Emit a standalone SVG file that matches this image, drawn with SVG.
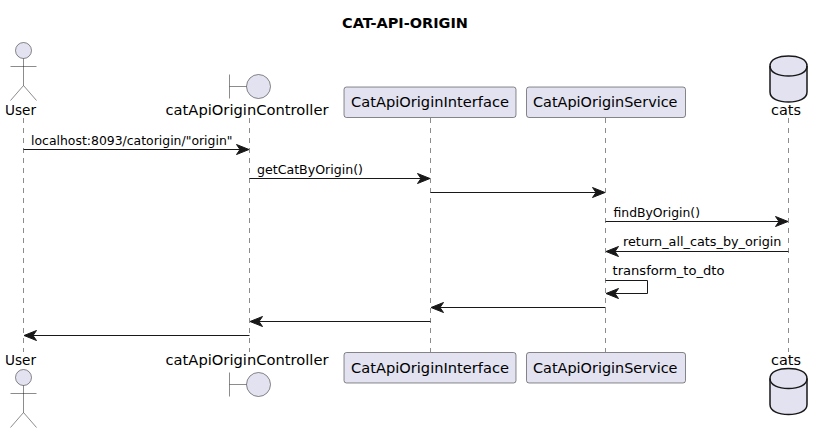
<svg xmlns="http://www.w3.org/2000/svg" width="822" height="433" viewBox="0 0 822 433">
<style>
text{font-family:"DejaVu Sans",sans-serif;fill:#000}
.t{font-size:14.500px;font-weight:700}
.p{font-size:14.500px}
.m{font-size:12.500px}
.life{stroke:#181818;stroke-width:.5;stroke-dasharray:5,5;fill:none}
.shape{fill:#E2E2F0;stroke:#181818;stroke-width:.5}
.stick{fill:none;stroke:#181818;stroke-width:.5}
.db{fill:#E2E2F0;stroke:#181818;stroke-width:1.5}
.dbl{fill:none;stroke:#181818;stroke-width:1.5}
.msg{fill:none;stroke:#181818;stroke-width:1}
.head{fill:#181818;stroke:#181818;stroke-width:1}
</style>
<defs>
<path id="ar" class="head" d="M0,0 L-12.500,-5 L-9,0 L-12.500,5 Z"/>
<path id="al" class="head" d="M0,0 L12.500,-5 L9,0 L12.500,5 Z"/>
<g id="actor"><circle class="shape" cx="0" cy="0" r="8"/><path class="stick" d="M0,8V35M-13,16H13M0,35L-13,50M0,35L13,50"/></g>
<g id="boundary"><circle class="shape" cx="9" cy="0" r="12"/><path class="stick" d="M-20,-12V12M-20,0H-3"/></g>
<g id="dbshape"><path class="db" d="M770,66 C770,59 779,56 788.500,56 C798,56 807,59 807,66 V92 C807,99 798,102 788.500,102 C779,102 770,99 770,92 Z"/><path class="dbl" d="M770,66 C770,73 779,76 788.500,76 C798,76 807,73 807,66"/></g>
</defs>
<text class="t" x="342" y="28" textLength="126" lengthAdjust="spacingAndGlyphs">CAT-API-ORIGIN</text>
<g id="lifelines">
<path class="life" d="M23.500,118V352"/>
<path class="life" d="M249.500,118V352"/>
<path class="life" d="M430.500,118V352"/>
<path class="life" d="M605.500,118V352"/>
<path class="life" d="M788.500,118V352"/>
</g>
<g id="user-top"><use href="#actor" x="23.500" y="50.500"/><text class="p" x="5" y="115" textLength="31" lengthAdjust="spacingAndGlyphs">User</text></g>
<g id="controller-top"><use href="#boundary" x="249.500" y="86.500"/><text class="p" x="165.500" y="115" textLength="163" lengthAdjust="spacingAndGlyphs">catApiOriginController</text></g>
<g id="interface-top"><rect class="shape" x="344" y="87" width="172" height="30.500" rx="2.500"/><text class="p" x="351" y="107" textLength="158" lengthAdjust="spacingAndGlyphs">CatApiOriginInterface</text></g>
<g id="service-top"><rect class="shape" x="526.500" y="87" width="159" height="30.500" rx="2.500"/><text class="p" x="533" y="107" textLength="144.500" lengthAdjust="spacingAndGlyphs">CatApiOriginService</text></g>
<g id="cats-top"><use href="#dbshape"/><text class="p" x="771" y="115" textLength="30" lengthAdjust="spacingAndGlyphs">cats</text></g>
<g id="user-bottom"><use href="#actor" x="23.500" y="377.500"/><text class="p" x="5" y="365" textLength="31" lengthAdjust="spacingAndGlyphs">User</text></g>
<g id="controller-bottom"><use href="#boundary" x="249.500" y="384.500"/><text class="p" x="165.500" y="365" textLength="163" lengthAdjust="spacingAndGlyphs">catApiOriginController</text></g>
<g id="interface-bottom"><rect class="shape" x="344" y="352.500" width="172" height="30.500" rx="2.500"/><text class="p" x="351" y="372.500" textLength="158" lengthAdjust="spacingAndGlyphs">CatApiOriginInterface</text></g>
<g id="service-bottom"><rect class="shape" x="526.500" y="352.500" width="159" height="30.500" rx="2.500"/><text class="p" x="533" y="372.500" textLength="144.500" lengthAdjust="spacingAndGlyphs">CatApiOriginService</text></g>
<g id="cats-bottom"><use href="#dbshape" y="312.500"/><text class="p" x="771" y="365" textLength="30" lengthAdjust="spacingAndGlyphs">cats</text></g>
<g id="connectors">
<path class="msg" d="M23.500,149.500H246"/><use href="#ar" x="249" y="149.500"/>
<path class="msg" d="M249.500,178.500H427"/><use href="#ar" x="430" y="178.500"/>
<path class="msg" d="M430.500,192.500H602"/><use href="#ar" x="605" y="192.500"/>
<path class="msg" d="M605.500,221.500H785"/><use href="#ar" x="788" y="221.500"/>
<path class="msg" d="M788.500,251.500H609"/><use href="#al" x="606" y="251.500"/>
<path class="msg" d="M605.500,280.500H647.500V293.500H609"/><use href="#al" x="606" y="293.500"/>
<path class="msg" d="M605.500,307.500H434"/><use href="#al" x="431" y="307.500"/>
<path class="msg" d="M430.500,321.500H253"/><use href="#al" x="250" y="321.500"/>
<path class="msg" d="M249.500,335.500H27"/><use href="#al" x="24" y="335.500"/>
</g>
<g id="labels">
<text class="m" x="31" y="145" textLength="201.500" lengthAdjust="spacingAndGlyphs">localhost:8093/catorigin/"origin"</text>
<text class="m" x="257" y="174" textLength="106" lengthAdjust="spacingAndGlyphs">getCatByOrigin()</text>
<text class="m" x="613.500" y="217" textLength="86.500" lengthAdjust="spacingAndGlyphs">findByOrigin()</text>
<text class="m" x="623" y="246" textLength="158.500" lengthAdjust="spacingAndGlyphs">return_all_cats_by_origin</text>
<text class="m" x="612.500" y="275" textLength="112" lengthAdjust="spacingAndGlyphs">transform_to_dto</text>
</g>
</svg>
